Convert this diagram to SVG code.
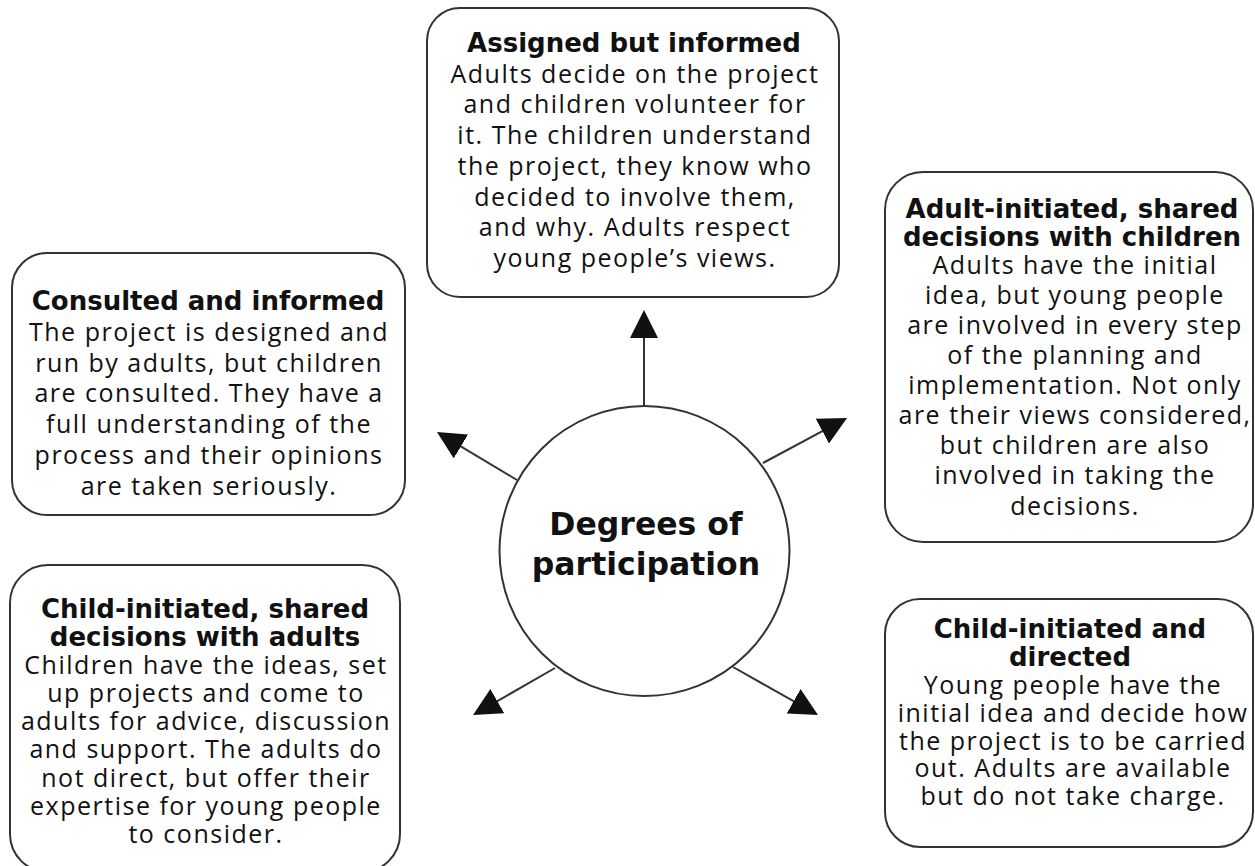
<svg xmlns="http://www.w3.org/2000/svg" width="1255" height="866" viewBox="0 0 1255 866">
<style>
.box{fill:#fff;stroke:#333;stroke-width:2}
.t{font-family:"Open Sans","Noto Sans",sans-serif;font-size:25px;letter-spacing:1.5px;fill:#111;text-anchor:middle}
.b{font-family:"DejaVu Sans","Open Sans",sans-serif;font-weight:bold;font-size:26px;letter-spacing:0}
.m{font-family:"DejaVu Sans","Open Sans",sans-serif;font-weight:bold;font-size:31.5px;letter-spacing:0}
.c{stroke:#333;stroke-width:2;fill:none;marker-end:url(#ah)}
</style>
<defs>
<marker id="ah" viewBox="0 0 28 28" markerWidth="28" markerHeight="28" refX="8" refY="14" orient="auto" markerUnits="userSpaceOnUse">
<path d="M0,0 L28,14 L0,28 z" fill="#111"/>
</marker>
</defs>
<rect width="1255" height="866" fill="#fff"/>
<g id="connectors">
<line class="c" x1="644" y1="406" x2="644" y2="330"/>
<line class="c" x1="517" y1="480" x2="454.1" y2="442.3"/>
<line class="c" x1="763" y1="463" x2="829.4" y2="427.4"/>
<line class="c" x1="555" y1="668" x2="490.4" y2="705.1"/>
<line class="c" x1="733" y1="667" x2="800.6" y2="705.2"/>
</g>
<g id="center">
<circle cx="644.5" cy="551" r="145" fill="#fff" stroke="#333" stroke-width="2"/>
<text class="t m" x="646" y="535">Degrees of</text>
<text class="t m" x="646" y="575">participation</text>
</g>
<g id="assigned">
<rect class="box" x="427" y="8" width="412" height="289" rx="33"/>
<text class="t b" x="634" y="52">Assigned but informed</text>
<text class="t" x="635" y="82.7">Adults decide on the project</text>
<text class="t" x="635" y="113.4">and children volunteer for</text>
<text class="t" x="635" y="144.1">it. The children understand</text>
<text class="t" x="635" y="174.8">the project, they know who</text>
<text class="t" x="635" y="205.5">decided to involve them,</text>
<text class="t" x="635" y="236.2">and why. Adults respect</text>
<text class="t" x="635" y="266.9">young people’s views.</text>
</g>
<g id="consulted">
<rect class="box" x="12" y="253" width="393" height="262" rx="35"/>
<text class="t b" x="208" y="310">Consulted and informed</text>
<text class="t" x="209" y="340.8">The project is designed and</text>
<text class="t" x="209" y="371.6">run by adults, but children</text>
<text class="t" x="209" y="402.4">are consulted. They have a</text>
<text class="t" x="209" y="433.2">full understanding of the</text>
<text class="t" x="209" y="464">process and their opinions</text>
<text class="t" x="209" y="494.8">are taken seriously.</text>
</g>
<g id="adult-initiated">
<rect class="box" x="885" y="172" width="368" height="370" rx="38"/>
<text class="t b" x="1072" y="218">Adult-initiated, shared</text>
<text class="t b" x="1072" y="246">decisions with children</text>
<text class="t" x="1075" y="274">Adults have the initial</text>
<text class="t" x="1075" y="304">idea, but young people</text>
<text class="t" x="1075" y="334">are involved in every step</text>
<text class="t" x="1075" y="364">of the planning and</text>
<text class="t" x="1075" y="394">implementation. Not only</text>
<text class="t" x="1075" y="424">are their views considered,</text>
<text class="t" x="1075" y="454">but children are also</text>
<text class="t" x="1075" y="484">involved in taking the</text>
<text class="t" x="1075" y="515">decisions.</text>
</g>
<g id="child-shared">
<rect class="box" x="10" y="565" width="390" height="307" rx="38"/>
<text class="t b" x="205" y="618">Child-initiated, shared</text>
<text class="t b" x="205" y="646">decisions with adults</text>
<text class="t" x="206" y="674">Children have the ideas, set</text>
<text class="t" x="206" y="702">up projects and come to</text>
<text class="t" x="206" y="730">adults for advice, discussion</text>
<text class="t" x="206" y="758">and support. The adults do</text>
<text class="t" x="206" y="787">not direct, but offer their</text>
<text class="t" x="206" y="815">expertise for young people</text>
<text class="t" x="206" y="843">to consider.</text>
</g>
<g id="child-directed">
<rect class="box" x="885" y="599" width="368" height="248" rx="35"/>
<text class="t b" x="1070" y="638">Child-initiated and</text>
<text class="t b" x="1070" y="666">directed</text>
<text class="t" x="1073" y="694">Young people have the</text>
<text class="t" x="1073" y="722">initial idea and decide how</text>
<text class="t" x="1073" y="750">the project is to be carried</text>
<text class="t" x="1073" y="777">out. Adults are available</text>
<text class="t" x="1073" y="805">but do not take charge.</text>
</g>
</svg>
